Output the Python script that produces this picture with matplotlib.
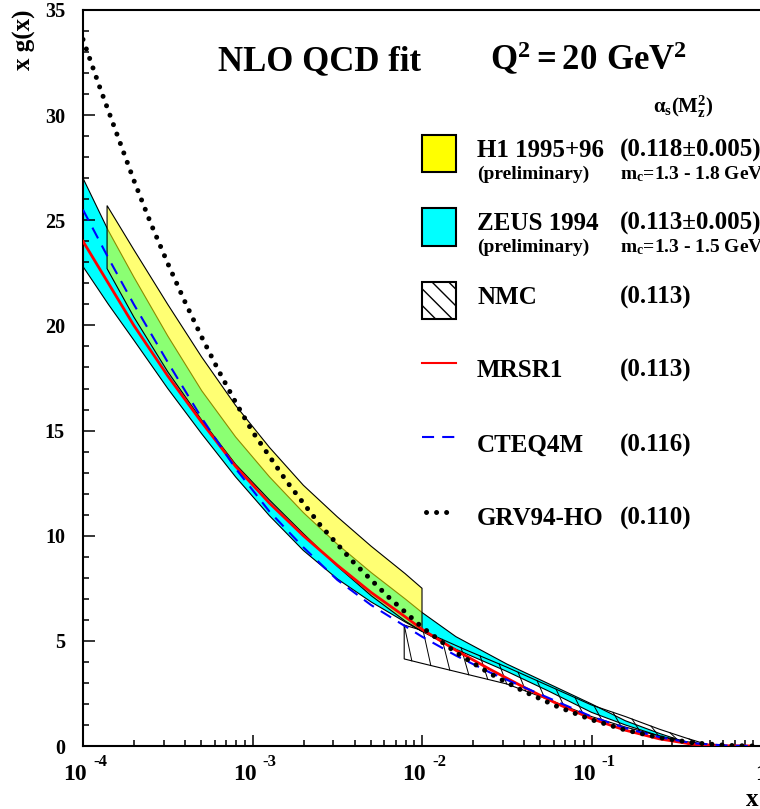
import numpy as np
import matplotlib
matplotlib.use("Agg")
from matplotlib import pyplot as plt
from matplotlib.patches import Rectangle
from matplotlib.lines import Line2D
from matplotlib.ticker import MultipleLocator

plt.rcParams['font.family'] = ['Liberation Serif', 'DejaVu Serif']
plt.rcParams['font.weight'] = 'bold'
plt.rcParams['mathtext.fontset'] = 'custom'
plt.rcParams['mathtext.rm'] = 'Liberation Serif:bold'
plt.rcParams['mathtext.it'] = 'Liberation Serif:bold'
plt.rcParams['mathtext.bf'] = 'Liberation Serif:bold'

W, H = 760, 809

# curves: log10(x) and x g(x)
lx_curve = [-4.0, -3.85, -3.7, -3.5, -3.3, -3.1, -2.9, -2.7, -2.5, -2.3, -2.1,
            -2.0, -1.8, -1.6, -1.4, -1.2, -1.0, -0.8, -0.6, -0.4, -0.2, -0.05]
y_mrsr1 = [24.0, 22.0, 20.0, 17.6, 15.4, 13.3, 11.55, 10.0, 8.6, 7.3, 6.15,
           5.55, 4.55, 3.65, 2.8, 2.0, 1.3, 0.75, 0.34, 0.08, 0.01, 0.0]
y_cteq4m = [25.5, 23.2, 21.0, 18.25, 15.6, 13.2, 11.15, 9.45, 7.9, 6.7, 5.7,
            5.2, 4.3, 3.5, 2.8, 2.1, 1.4, 0.85, 0.42, 0.13, 0.02, 0.0]

lx_grv = [-4.0, -3.9, -3.8, -3.7, -3.6, -3.5, -3.4, -3.3, -3.2, -3.1, -3.0, -2.8, -2.6,
          -2.4, -2.2, -2.0, -1.8, -1.6, -1.4, -1.2, -1.0, -0.8, -0.6, -0.4, -0.2, -0.05]
y_grv = [33.6, 31.3, 29.1, 26.9, 24.85, 22.95, 21.15, 19.45, 17.85, 16.35, 14.95, 12.6, 10.5,
         8.7, 7.1, 5.65, 4.45, 3.45, 2.6, 1.87, 1.25, 0.76, 0.4, 0.15, 0.03, 0.0]

# H1 1995+96 band
lx_h1 = [-3.858, -3.7, -3.5, -3.3, -3.1, -2.9, -2.7, -2.5, -2.3, -2.1, -2.0]
h1_up = [25.7, 23.6, 21.0, 18.5, 16.2, 14.2, 12.4, 10.9, 9.5, 8.2, 7.5]
h1_lo = [22.7, 20.4, 17.8, 15.5, 13.4, 11.7, 10.1, 8.55, 7.15, 5.95, 5.45]

# ZEUS 1994 band
lx_zeus = [-4.0, -3.85, -3.7, -3.5, -3.3, -3.1, -2.9, -2.7, -2.5, -2.3, -2.1, -2.0,
           -1.8, -1.5, -1.25, -1.0, -0.8, -0.6, -0.45, -0.4]
zeus_up = [27.0, 24.5, 22.3, 19.5, 16.9, 14.7, 12.8, 11.1, 9.6, 8.25, 7.0, 6.35,
           5.2, 3.9, 2.95, 2.0, 1.2, 0.6, 0.2, 0.05]
zeus_lo = [22.8, 21.0, 19.3, 17.0, 14.85, 12.8, 10.95, 9.3, 7.95, 6.85, 5.9, 5.45,
           4.6, 3.55, 2.6, 1.6, 1.0, 0.48, 0.15, 0.03]

# NMC band
lx_nmc = [-2.105, -2.0, -1.75, -1.5, -1.25, -1.0, -0.8, -0.6, -0.45, -0.35, -0.3]
nmc_up = [5.75, 5.5, 4.6, 3.75, 2.85, 1.95, 1.4, 0.8, 0.4, 0.15, 0.05]
nmc_lo = [4.14, 3.93, 3.44, 2.95, 2.2, 1.4, 0.9, 0.48, 0.22, 0.1, 0.05]

decades = [-4, -3, -2, -1]

legend_names = ['H1 1995+96', 'ZEUS 1994', 'NMC', 'MRSR1', 'CTEQ4M', 'GRV94-HO']
legend_alphas = ['(0.118\u00b10.005)', '(0.113\u00b10.005)', '(0.113)', '(0.113)', '(0.116)', '(0.110)']
legend_mc = ['$\\mathrm{m_c}$=1.3 - 1.8 GeV', '$\\mathrm{m_c}$=1.3 - 1.5 GeV']

dots = (0, (0.01, 2.0))
dashes = (0, (5.8, 3.9))


def fx(x):
    return x / W


def fy(y):
    return 1 - y / H


def band(ax, lx, up, lo, color, alpha, z):
    xs = 10.0 ** np.array(lx)
    xx = np.r_[xs, xs[::-1]]
    yy = np.r_[up, lo[::-1]]
    ax.fill(xx, yy, facecolor=color, edgecolor='none', alpha=alpha, zorder=z)
    ax.fill(xx, yy, facecolor='none', edgecolor='black', lw=0.8, zorder=z + 0.1)


def main():
    fig = plt.figure(figsize=(W / 100, H / 100), dpi=100)
    ax = fig.add_axes([fx(83), fy(746), 678 / W, 736 / H])
    ax.set_xscale('log')
    ax.set_xlim(1e-4, 1)
    ax.set_ylim(0, 35)

    band(ax, lx_zeus, zeus_up, zeus_lo, '#00ffff', 1.0, 1)
    band(ax, lx_h1, h1_up, h1_lo, '#ffff00', 0.55, 2)

    # NMC: outline plus steep hatch lines
    xs = 10.0 ** np.array(lx_nmc)
    ax.fill(np.r_[xs, xs[::-1]], np.r_[nmc_up, nmc_lo[::-1]], facecolor='none',
            edgecolor='black', lw=0.8, zorder=3)
    for s in np.arange(lx_nmc[0], lx_nmc[-1] - 0.06, 0.112):
        ax.plot([10 ** s, 10 ** (s + 0.045)],
                [np.interp(s, lx_nmc, nmc_up), np.interp(s + 0.045, lx_nmc, nmc_lo)],
                color='black', lw=0.7, zorder=3)

    xc = 10.0 ** np.array(lx_curve)
    ax.plot(xc, y_mrsr1, color='#ff0000', lw=2.0, zorder=4)
    ax.plot(xc, y_cteq4m, color='#0000ff', lw=1.5, linestyle=dashes, zorder=5)
    ax.plot(10.0 ** np.array(lx_grv), y_grv, color='black', lw=3.6, linestyle=dots,
            dash_capstyle='round', zorder=6)

    for side in ['left', 'bottom', 'top']:
        ax.spines[side].set_linewidth(1.5)
    ax.spines['right'].set_visible(False)

    ax.yaxis.set_major_locator(MultipleLocator(5))
    ax.yaxis.set_minor_locator(MultipleLocator(1))
    ax.tick_params(axis='both', which='both', direction='in', top=False, right=False, width=1.1)
    ax.tick_params(axis='y', which='major', length=8.6, pad=13, labelsize=14.5)
    ax.tick_params(axis='y', which='minor', length=4.3)
    ax.tick_params(axis='x', which='major', length=8, labelbottom=False)
    ax.tick_params(axis='x', which='minor', length=4.3, labelbottom=False)

    for e in decades:
        ax.annotate('10', xy=(10.0 ** e, 0), xycoords=('data', 'axes fraction'),
                    xytext=(4, -34), textcoords='offset pixels', ha='right',
                    va='baseline', fontsize=17)
        ax.annotate(str(e), xy=(10.0 ** e, 0), xycoords=('data', 'axes fraction'),
                    xytext=(10, -20), textcoords='offset pixels', ha='left',
                    va='baseline', fontsize=12)
    ax.annotate('1', xy=(1, 0), xycoords=('data', 'axes fraction'),
                xytext=(0, -34), textcoords='offset pixels', ha='center',
                va='baseline', fontsize=17, annotation_clip=False)

    fig.text(fx(24), fy(10), 'x g(x)', rotation=90, ha='center', va='top', fontsize=18)
    fig.text(fx(746), fy(806), 'x', ha='left', va='baseline', fontsize=18)

    fig.text(fx(218), fy(70), 'NLO QCD fit', ha='left', va='baseline', fontsize=25)
    fig.text(fx(490), fy(70), '$\\mathrm{Q^2 = 20\\ GeV^2}$', ha='left', va='baseline', fontsize=25)
    fig.text(fx(653), fy(113), '$\\mathrm{\\alpha_s(M_z^2)}$', ha='left', va='baseline', fontsize=15)

    # legend
    name_y = [157, 230, 304, 377, 452, 525]
    for name, val, yb in zip(legend_names, legend_alphas, name_y):
        fig.text(fx(477), fy(yb), name, ha='left', va='baseline', fontsize=18)
        fig.text(fx(620), fy(yb), val, ha='left', va='baseline', fontsize=18)
    for mc, yb in zip(legend_mc, [179, 252]):
        fig.text(fx(477), fy(yb), '(preliminary)', ha='left', va='baseline', fontsize=14)
        fig.text(fx(620), fy(yb), mc, ha='left', va='baseline', fontsize=14)

    fig.patches.append(Rectangle((fx(422), fy(172)), 34 / W, 37 / H, transform=fig.transFigure,
                                 facecolor='#ffff00', edgecolor='black', lw=1.5))
    fig.patches.append(Rectangle((fx(422), fy(246)), 34 / W, 38 / H, transform=fig.transFigure,
                                 facecolor='#00ffff', edgecolor='black', lw=1.5))
    fig.patches.append(Rectangle((fx(422), fy(319)), 34 / W, 37 / H, transform=fig.transFigure,
                                 facecolor='white', edgecolor='black', lw=1.5, hatch='\\\\'))
    fig.lines.append(Line2D([fx(422), fx(456)], [fy(363), fy(363)], transform=fig.transFigure,
                            color='#ff0000', lw=1.5))
    fig.lines.append(Line2D([fx(422), fx(456)], [fy(437), fy(437)], transform=fig.transFigure,
                            color='#0000ff', lw=1.5, linestyle=dashes))
    fig.lines.append(Line2D([fx(426), fx(447)], [fy(512), fy(512)], transform=fig.transFigure,
                            color='black', lw=3.6, linestyle=dots, dash_capstyle='round'))

    fig.savefig('out.png', dpi=100)


if __name__ == "__main__":
    main()
